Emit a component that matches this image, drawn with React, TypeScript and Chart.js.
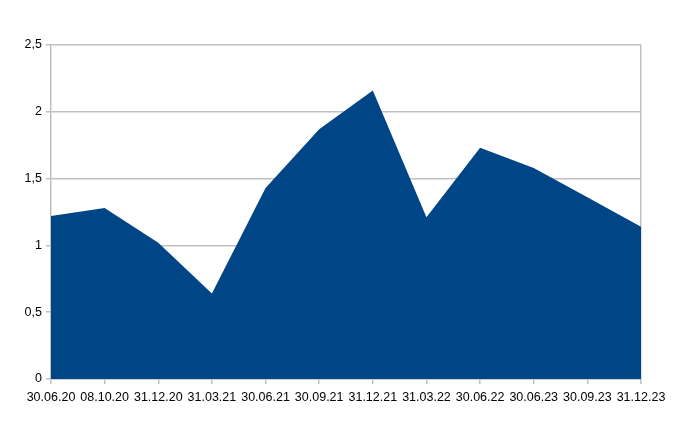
import React, { useEffect, useRef } from "react";
import { Chart, registerables } from "chart.js";

Chart.register(...registerables);

const categories = [
  "30.06.20", "08.10.20", "31.12.20", "31.03.21", "30.06.21", "30.09.21",
  "31.12.21", "31.03.22", "30.06.22", "30.06.23", "30.09.23", "31.12.23",
];
const values = [1.22, 1.28, 1.02, 0.64, 1.43, 1.87, 2.16, 1.21, 1.73, 1.58, 1.36, 1.14];
const yTicks = [0, 0.5, 1, 1.5, 2, 2.5];

export default function App() {
  const ref = useRef<HTMLCanvasElement>(null);
  useEffect(() => {
    document.body.style.margin = "0";
    const ctx = ref.current!;
    const grid = "#c0c0c0";
    const chart = new Chart(ctx, {
      type: "line",
      data: {
        labels: categories,
        datasets: [
          {
            data: values,
            fill: "origin",
            backgroundColor: "#004586",
            borderColor: "#004586",
            borderWidth: 0,
            pointRadius: 0,
            tension: 0,
          },
        ],
      },
      options: {
        animation: false,
        responsive: false,
        maintainAspectRatio: false,
        layout: { padding: { top: 45, right: 52, bottom: 0, left: 0 } },
        plugins: { legend: { display: false }, tooltip: { enabled: false } },
        scales: {
          x: {
            offset: false,
            afterFit: (s: any) => { s.height = 54; },
            grid: {
              drawOnChartArea: true,
              color: (c: any) => (c.index === categories.length - 1 ? grid : "rgba(0,0,0,0)"),
              tickColor: grid,
              tickLength: 5,
              lineWidth: 1.5,
            },
            border: { color: grid, width: 1.5 },
            ticks: {
              color: "#000",
              font: { family: "Liberation Sans", size: 12.5 },
              padding: 6,
              maxRotation: 0,
              autoSkip: false,
            },
          },
          y: {
            min: 0,
            max: 2.5,
            afterFit: (s: any) => { s.width = 51; },
            afterBuildTicks: (s: any) => { s.ticks = yTicks.map((v) => ({ value: v })); },
            grid: { color: grid, tickColor: grid, tickLength: 5, lineWidth: 1.5 },
            border: { color: grid, width: 1.5 },
            ticks: {
              color: "#000",
              font: { family: "Liberation Sans", size: 12.5 },
              padding: 4,
              callback: (v: any) => String(v).replace(".", ","),
            },
          },
        },
      },
    });
    return () => chart.destroy();
  }, []);
  return (
    <div style={{ position: "absolute", left: 0, top: 0, width: 693, height: 433, background: "#fff" }}>
      <canvas ref={ref} width={693} height={433} style={{ width: 693, height: 433 }} />
    </div>
  );
}
